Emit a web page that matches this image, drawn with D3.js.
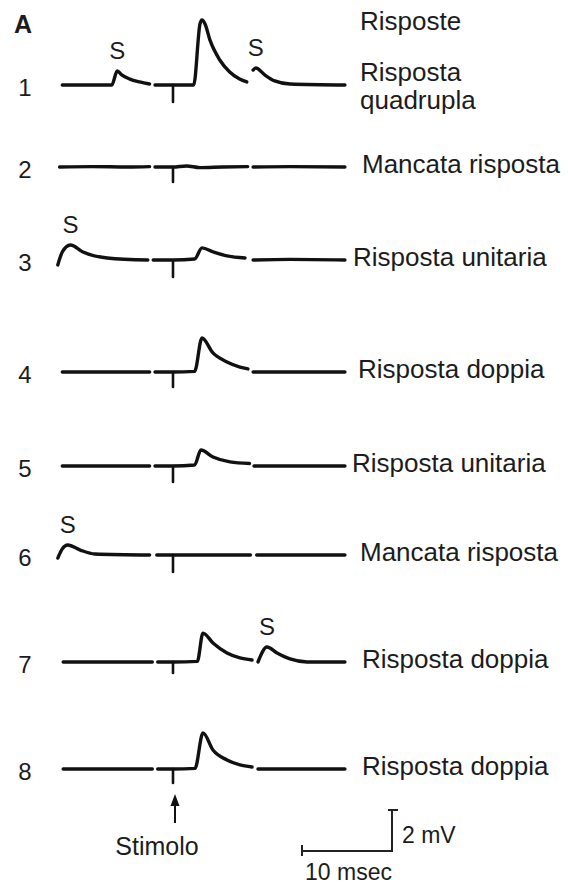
<!DOCTYPE html>
<html>
<head>
<meta charset="utf-8">
<script src="https://cdn.jsdelivr.net/npm/d3@7"></script>
<style>
  body { margin: 0; background: #fff; }
  text { font-family: "Liberation Sans", Arial, sans-serif; fill: #1c1c1c; }
</style>
</head>
<body>
<svg id="chart" width="568" height="889"></svg>
<script>
// Trace numbers and labels on the right
var traceIds = ["1", "2", "3", "4", "5", "6", "7", "8"];
var responseLabels = [
  ["Risposta", "quadrupla"],
  ["Mancata risposta"],
  ["Risposta unitaria"],
  ["Risposta doppia"],
  ["Risposta unitaria"],
  ["Mancata risposta"],
  ["Risposta doppia"],
  ["Risposta doppia"]
];

// Each trace = 3 sweep segments of [msec from stimulus, mV above baseline]
var traces = [
  [[[-12.3, 0], [-6.8, 0], [-6.2, 0.68], [-5.7, 0.49], [-4.8, 0.29], [-3.7, 0.15], [-2.6, 0.05]],
   [[-2.0, 0], [0, 0], [2.3, 0], [3.0, 2.98], [3.22, 3.17], [3.56, 2.98], [4.1, 2.2], [5.2, 1.22], [6.3, 0.63], [7.4, 0.29], [8.2, 0.15]],
   [[8.9, 0.73], [9.2, 0.83], [10.2, 0.49], [11.3, 0.2], [13.0, 0.05], [19.1, 0]]],
  [[[-12.6, 0], [-9, 0.02], [-5, 0], [-2.6, 0.02]],
   [[-2.0, 0], [0, 0], [1.5, 0.05], [3, -0.03], [5.5, 0], [8.3, 0.02]],
   [[8.9, 0], [13, 0.02], [19.1, 0]]],
  [[[-12.8, -0.24], [-12.3, 0.39], [-11.4, 0.73], [-10.0, 0.39], [-7.3, 0.1], [-2.8, 0]],
   [[-2.2, 0], [0, 0], [2.4, 0.05], [3.22, 0.59], [4.5, 0.39], [6.0, 0.2], [8.0, 0.1]],
   [[8.9, 0], [13, 0.03], [19.1, 0]]],
  [[[-12.3, 0], [-2.6, 0]],
   [[-2.0, 0], [0, 0], [2.4, 0.03], [3.22, 1.66], [4.44, 0.93], [6.0, 0.49], [7.44, 0.24], [8.33, 0.15]],
   [[8.9, 0], [19.1, 0]]],
  [[[-12.3, 0], [-2.6, 0]],
   [[-2.0, 0], [0, 0], [2.4, 0.05], [3.1, 0.78], [4.44, 0.44], [6.33, 0.2], [8.5, 0.12]],
   [[9.0, 0], [19.1, 0]]],
  [[[-12.8, -0.15], [-12.3, 0.3], [-11.7, 0.49], [-10.3, 0.24], [-8.7, 0.05], [-2.6, 0]],
   [[-1.8, 0], [0, 0], [8.6, 0]],
   [[9.3, 0], [19.1, 0]]],
  [[[-12.2, 0], [-2.3, 0]],
   [[-1.7, 0], [0, 0], [2.7, 0.03], [3.33, 1.41], [4.44, 0.93], [6.0, 0.44], [7.44, 0.2], [8.78, 0.1]],
   [[9.44, 0], [10.44, 0.73], [11.56, 0.44], [13.0, 0.15], [14.9, 0], [19.1, 0]]],
  [[[-12.2, 0], [-2.3, 0]],
   [[-1.7, 0], [0, 0], [2.44, 0.03], [3.33, 1.76], [4.44, 0.93], [6.0, 0.44], [7.44, 0.2], [8.78, 0.1]],
   [[9.44, 0], [19.1, 0]]]
];

// Stimulus artefact depth (mV, downward) at t = 0
var stimDepth = [0.83, 0.73, 0.83, 0.73, 0.78, 0.83, 0.54, 0.68];

// Spontaneous potentials marked "S": [trace index, msec]
var spontaneous = [[0, -6.2], [0, 9.2], [2, -11.4], [5, -11.7], [6, 10.44]];

// Scale bar values
var barMsec = 10, barMv = 2;

// layout
var rowY = [85, 167, 260, 372, 466, 555, 662, 769],
  labelX = [360, 362, 353, 358, 352, 360, 362, 362];

var svg = d3.select("#chart"),
  x = d3.scaleLinear().domain([0, 10]).range([173, 263]),
  y = d3.scaleLinear().domain([0, 2]).range([0, -41]);

var line = d3.line()
  .x(d => x(d[0]))
  .y(d => y(d[1]))
  .curve(d3.curveMonotoneX);

var rows = svg.selectAll("g.row")
  .data(traces)
  .join("g")
  .attr("class", "row")
  .attr("transform", (d, i) => "translate(0," + rowY[i] + ")");

rows.selectAll("path.seg")
  .data(d => d)
  .join("path")
  .attr("class", "seg")
  .attr("d", line)
  .attr("fill", "none")
  .attr("stroke", "#111")
  .attr("stroke-width", 3.4)
  .attr("stroke-linecap", "round")
  .attr("stroke-linejoin", "round");

// stimulus artefact
rows.append("line")
  .attr("x1", x(0)).attr("x2", x(0))
  .attr("y1", 0)
  .attr("y2", (d, i) => y(-stimDepth[i]))
  .attr("stroke", "#111")
  .attr("stroke-width", 2.6)
  .attr("stroke-linecap", "round");

// trace numbers
rows.append("text")
  .attr("x", 25)
  .attr("y", 11)
  .attr("text-anchor", "middle")
  .style("font-size", "24px")
  .text((d, i) => traceIds[i]);

// response labels (one text per line)
rows.each(function (d, i) {
  var lab = responseLabels[i], g = d3.select(this);
  lab.forEach((s, k) => {
    g.append("text")
      .attr("x", labelX[i])
      .attr("y", lab.length > 1 ? -4 + k * 28 : 6)
      .style("font-size", "26px")
      .text(s);
  });
});

// "S" markers above the spontaneous potentials
spontaneous.forEach(function (s) {
  var pts = traces[s[0]].flat().filter(p => Math.abs(p[0] - s[1]) < 1.5);
  var peak = d3.max(pts, p => p[1]);
  svg.append("text")
    .attr("x", x(s[1]))
    .attr("y", rowY[s[0]] + y(peak) - 12)
    .attr("text-anchor", "middle")
    .style("font-size", "24px")
    .text("S");
});

// panel letter and header
svg.append("text")
  .attr("x", 14).attr("y", 33)
  .style("font-size", "25px").style("font-weight", "bold")
  .text("A");

svg.append("text")
  .attr("x", 360).attr("y", 30)
  .style("font-size", "26px")
  .text("Risposte");

// stimulus arrow
var ax = x(0) + 2;
svg.append("line")
  .attr("x1", ax).attr("x2", ax)
  .attr("y1", 803).attr("y2", 823)
  .attr("stroke", "#111").attr("stroke-width", 2);
svg.append("path")
  .attr("d", d3.line()([[ax, 794], [ax - 4.5, 806], [ax + 4.5, 806]]) + "Z")
  .attr("fill", "#111");
svg.append("text")
  .attr("x", 157).attr("y", 855)
  .attr("text-anchor", "middle")
  .style("font-size", "25px")
  .text("Stimolo");

// scale bar
var bx = 302, by = 851,
  bw = x(barMsec) - x(0),
  bh = -y(barMv);
svg.append("path")
  .attr("d", "M" + bx + "," + (by - 6) + "V" + (by + 5) +
    "M" + bx + "," + by + "H" + (bx + bw) + "V" + (by - bh) +
    "M" + (bx + bw - 4) + "," + (by - bh) + "H" + (bx + bw + 6))
  .attr("fill", "none")
  .attr("stroke", "#222")
  .attr("stroke-width", 2);
svg.append("text")
  .attr("x", bx + bw + 10).attr("y", 843)
  .style("font-size", "23px")
  .text(barMv + " mV");
svg.append("text")
  .attr("x", bx + 3).attr("y", 880)
  .style("font-size", "23px")
  .text(barMsec + " msec");
</script>
</body>
</html>
